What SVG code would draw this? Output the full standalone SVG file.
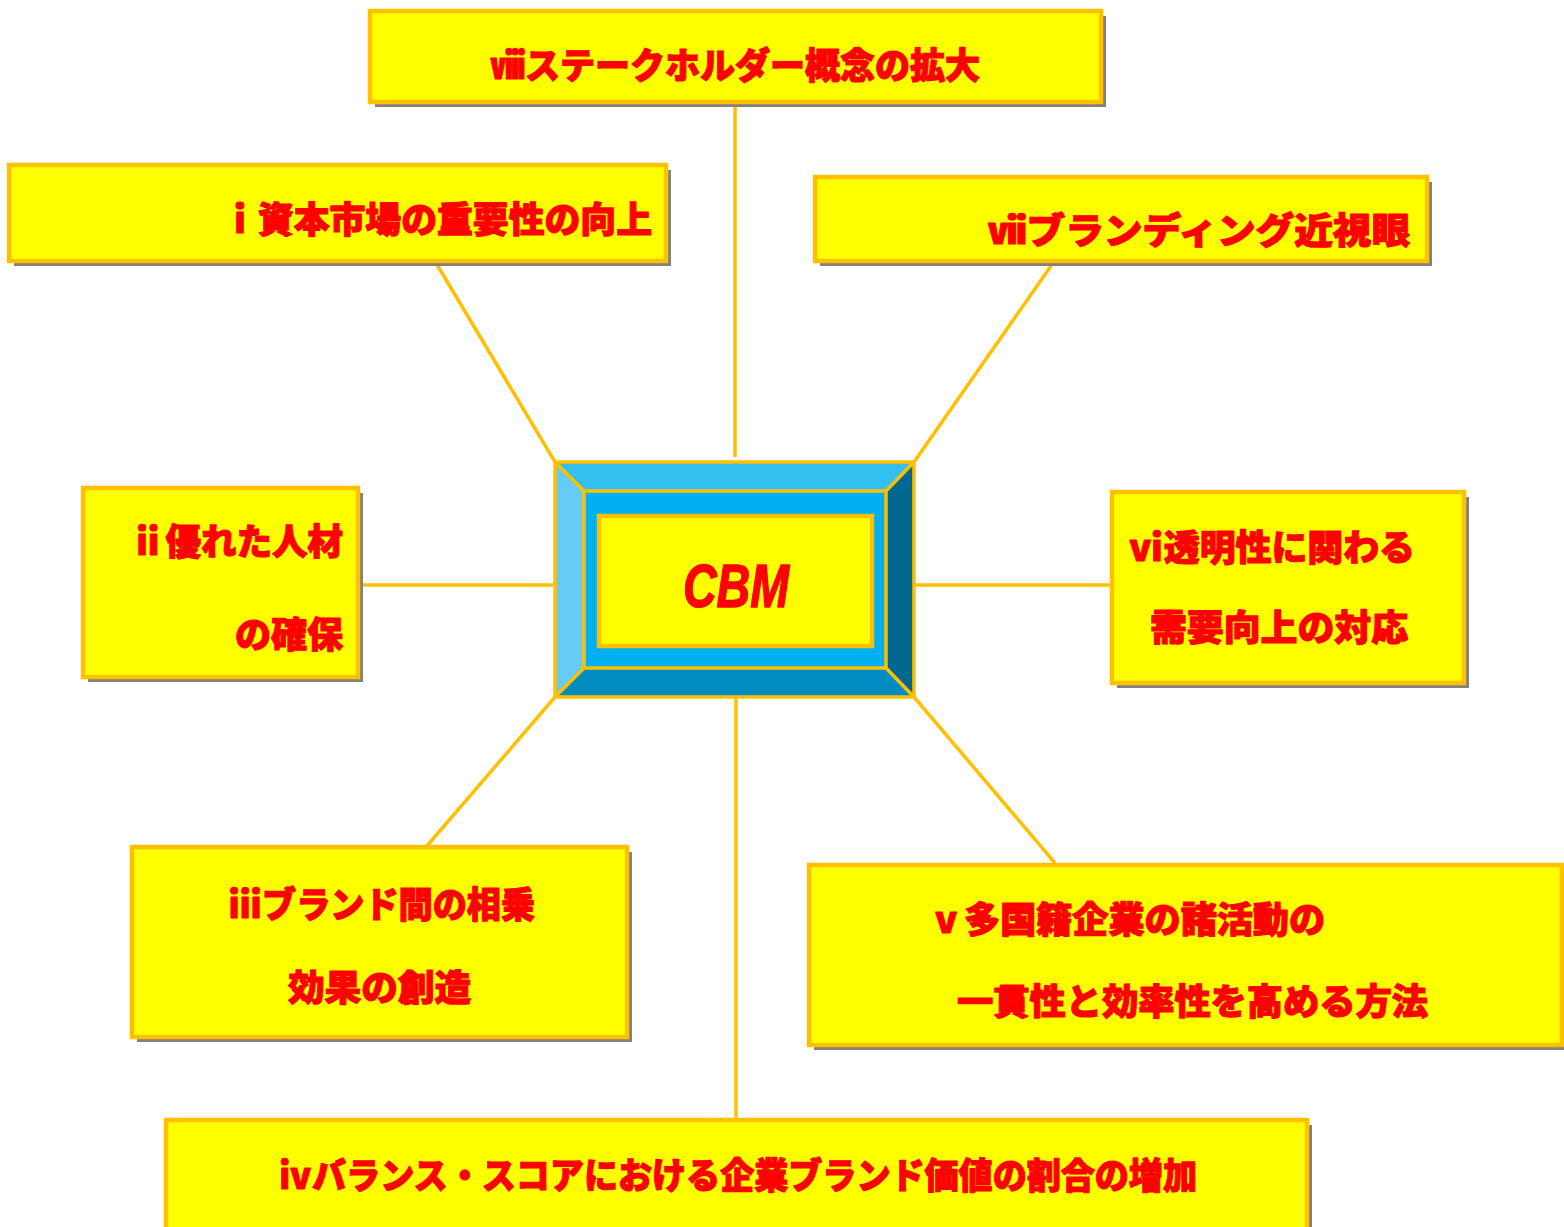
<svg xmlns="http://www.w3.org/2000/svg" width="1564" height="1227" viewBox="0 0 1564 1227">
<style>
.box{fill:#FFFF00;stroke:#FFC000;stroke-width:4.5}
.sh{fill:#808080}
.t{font-family:"Noto Sans CJK JP","Noto Sans",sans-serif;font-weight:900;font-size:36px;fill:#FF0000;stroke:#FF0000;stroke-width:1.2;stroke-linejoin:round}
.c{stroke:#FFC000;stroke-width:3.5;fill:none}
</style>
<rect width="1564" height="1227" fill="#FFFFFF"/>
<g id="connectors">
<line class="c" x1="735" y1="102" x2="735" y2="457"/>
<line class="c" x1="436" y1="263" x2="555" y2="462"/>
<line class="c" x1="1053" y1="263" x2="914" y2="462"/>
<line class="c" x1="358" y1="585" x2="555" y2="585"/>
<line class="c" x1="914" y1="585" x2="1112" y2="585"/>
<line class="c" x1="426" y1="847" x2="555" y2="697"/>
<line class="c" x1="1055" y1="863" x2="914" y2="697"/>
<line class="c" x1="736" y1="697" x2="736" y2="1118"/>
</g>
<g id="cbm">
<polygon points="555,462 914,462 886,491 584,491" fill="#33C0F0"/>
<polygon points="555,462 584,491 584,668 555,697" fill="#66CCF5"/>
<polygon points="914,462 914,697 886,668 886,491" fill="#006890"/>
<polygon points="555,697 584,668 886,668 914,697" fill="#008CC0"/>
<rect x="584" y="491" width="302" height="177" fill="#00B0F0"/>
<g stroke="#FFC000" stroke-width="3.5" fill="none">
<rect x="555" y="462" width="359" height="235"/>
<rect x="584" y="491" width="302" height="177"/>
<line x1="555" y1="462" x2="584" y2="491"/>
<line x1="914" y1="462" x2="886" y2="491"/>
<line x1="555" y1="697" x2="584" y2="668"/>
<line x1="914" y1="697" x2="886" y2="668"/>
</g>
<rect x="599" y="516" width="273" height="130" fill="#FFFF00" stroke="#FFC000" stroke-width="4.5"/>
<text x="683" y="607" font-family="Liberation Sans, Arial, sans-serif" font-weight="bold" font-style="italic" font-size="62" fill="#FF0000" stroke="#FF0000" stroke-width="1.5" stroke-linejoin="round" textLength="106" lengthAdjust="spacingAndGlyphs">CBM</text>
</g>
<g id="n8">
<rect class="sh" x="375" y="16" width="731" height="91"/>
<rect class="box" x="370" y="11" width="731" height="91"/>
<text class="t" x="490" y="79" textLength="490" lengthAdjust="spacingAndGlyphs">ⅷステークホルダー概念の拡大</text>
</g>
<g id="n1">
<rect class="sh" x="14" y="170" width="657" height="96"/>
<rect class="box" x="9" y="165" width="657" height="96"/>
<text class="t" x="222" y="233" textLength="430" lengthAdjust="spacingAndGlyphs">ｉ資本市場の重要性の向上</text>
</g>
<g id="n7">
<rect class="sh" x="820" y="182" width="612" height="84"/>
<rect class="box" x="815" y="177" width="612" height="84"/>
<text class="t" x="988" y="244" textLength="422" lengthAdjust="spacingAndGlyphs">ⅶブランディング近視眼</text>
</g>
<g id="n2">
<rect class="sh" x="88" y="493" width="275" height="189"/>
<rect class="box" x="83" y="488" width="275" height="189"/>
<text class="t" x="130" y="555" textLength="213" lengthAdjust="spacingAndGlyphs">ⅱ優れた人材</text>
<text class="t" x="235" y="648" textLength="108" lengthAdjust="spacingAndGlyphs">の確保</text>
</g>
<g id="n6">
<rect class="sh" x="1117" y="497" width="352" height="191"/>
<rect class="box" x="1112" y="492" width="352" height="191"/>
<text class="t" x="1128" y="561" textLength="287" lengthAdjust="spacingAndGlyphs">ⅵ透明性に関わる</text>
<text class="t" x="1150" y="641" textLength="258" lengthAdjust="spacingAndGlyphs">需要向上の対応</text>
</g>
<g id="n3">
<rect class="sh" x="137" y="852" width="495" height="190"/>
<rect class="box" x="132" y="847" width="495" height="190"/>
<text class="t" x="228" y="918" textLength="307" lengthAdjust="spacingAndGlyphs">ⅲブランド間の相乗</text>
<text class="t" x="288" y="1001" textLength="183" lengthAdjust="spacingAndGlyphs">効果の創造</text>
</g>
<g id="n5">
<rect class="sh" x="814" y="870" width="753" height="180"/>
<rect class="box" x="809" y="865" width="753" height="180"/>
<text class="t" x="928" y="933" textLength="397" lengthAdjust="spacingAndGlyphs">ⅴ多国籍企業の諸活動の</text>
<text class="t" x="957" y="1015" textLength="471" lengthAdjust="spacingAndGlyphs">一貫性と効率性を高める方法</text>
</g>
<g id="n4">
<rect class="sh" x="171" y="1125" width="1141" height="110"/>
<rect class="box" x="166" y="1120" width="1141" height="110"/>
<text class="t" x="278" y="1189" textLength="919" lengthAdjust="spacingAndGlyphs">ⅳバランス・スコアにおける企業ブランド価値の割合の増加</text>
</g>
</svg>
